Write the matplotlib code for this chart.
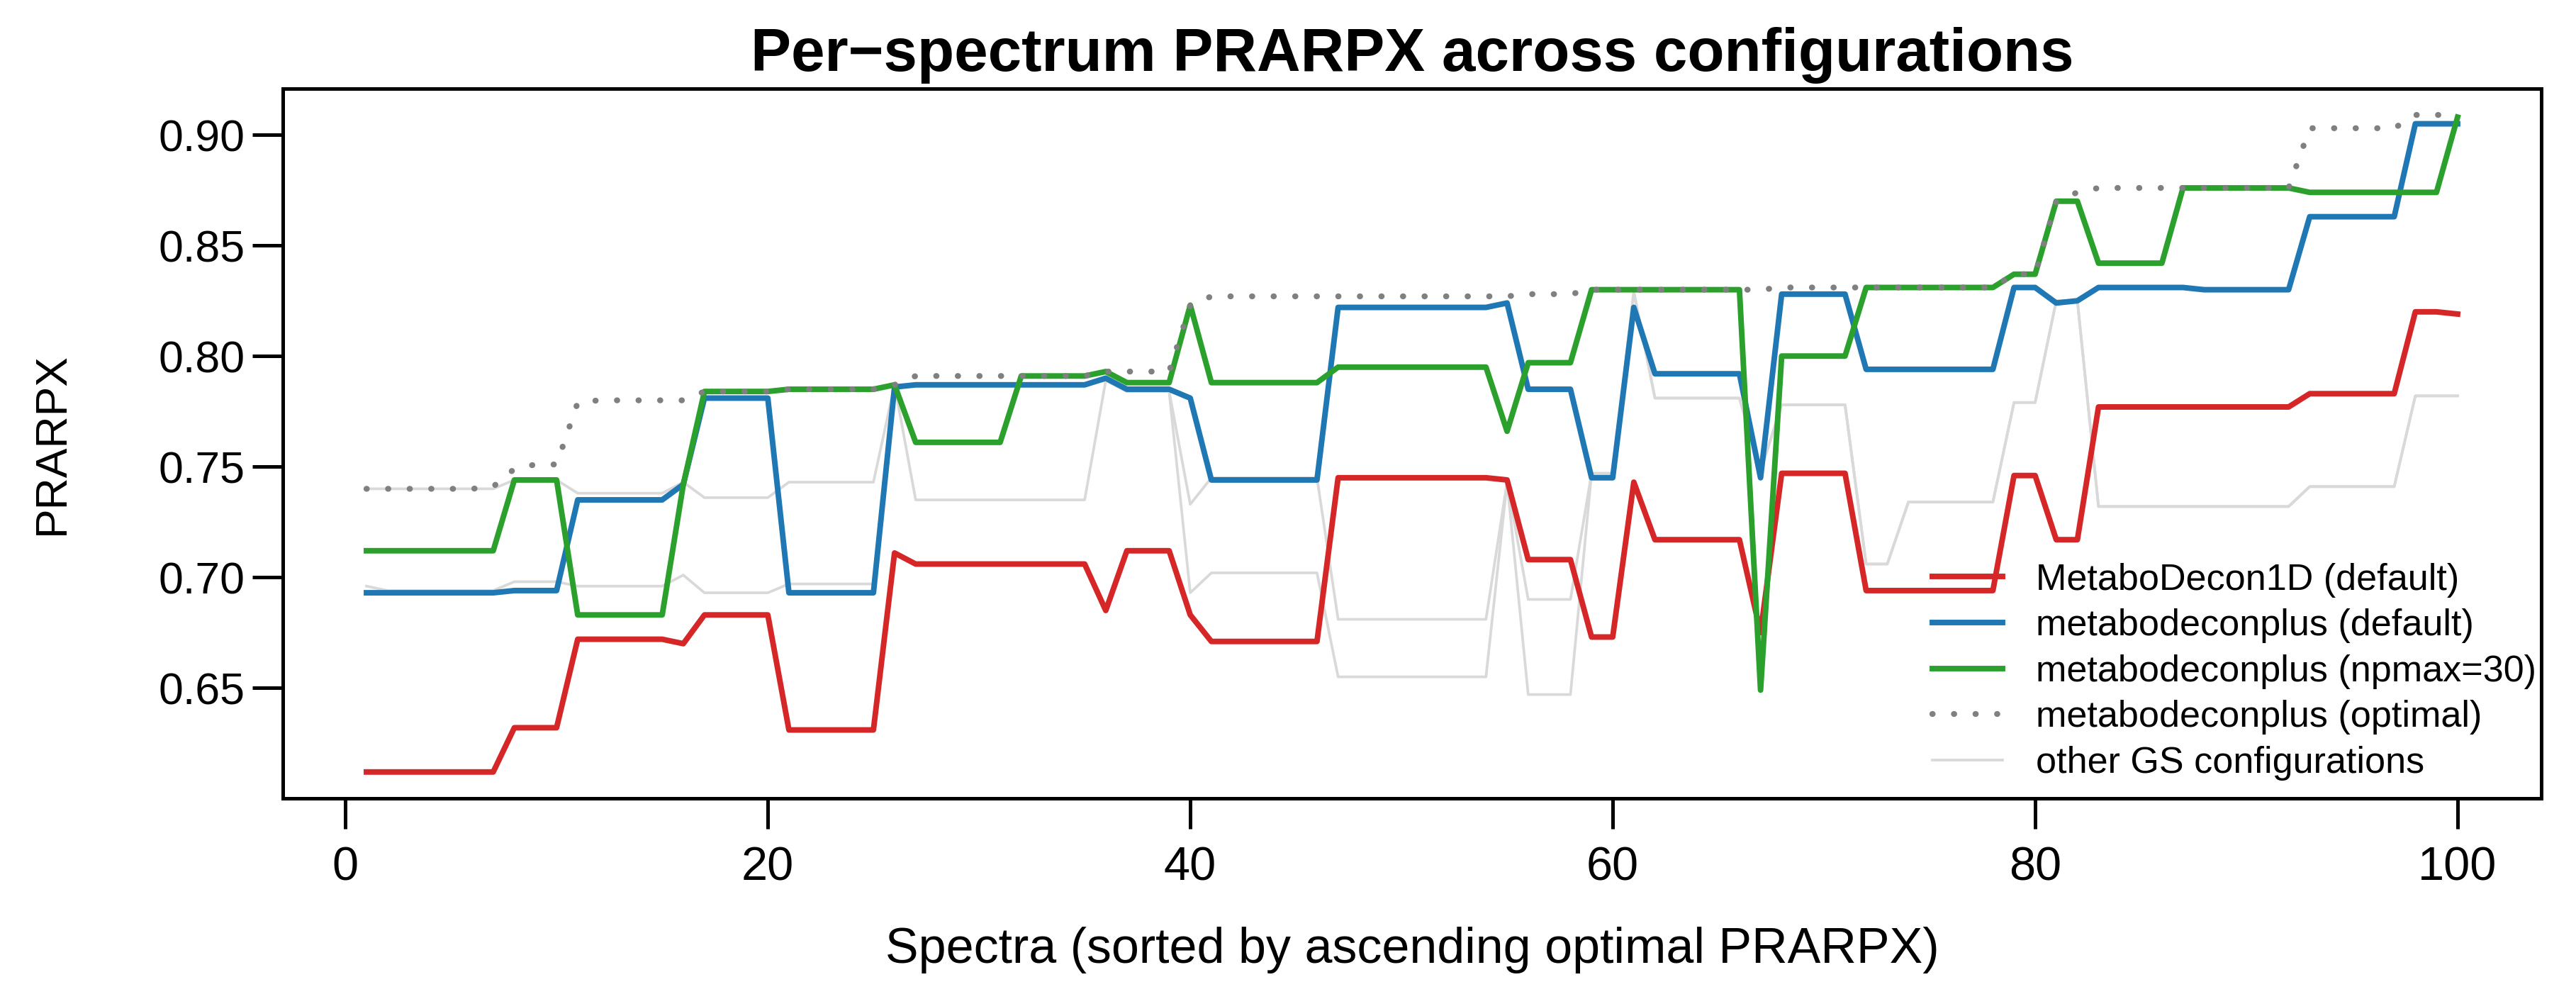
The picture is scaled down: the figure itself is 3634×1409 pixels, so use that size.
import numpy as np
import matplotlib.pyplot as plt

plt.rcParams['font.family'] = ['Liberation Sans', 'DejaVu Sans']

# spectra 1..100, sorted by ascending optimal PRARPX
spectra = np.arange(1, 101)

def steps(*runs):
    # runs of (value, count)
    out = []
    for v, n in runs:
        out += [v] * n
    return out

decon1d_default = steps((0.612, 7), (0.632, 3), (0.672, 5), (0.670, 1),
                        (0.683, 4), (0.631, 5), (0.711, 1), (0.706, 9), (0.685, 1), (0.712, 3),
                        (0.683, 1), (0.671, 6), (0.745, 8), (0.744, 1), (0.708, 3), (0.673, 2),
                        (0.743, 1), (0.717, 5), (0.675, 1), (0.747, 4), (0.694, 7), (0.746, 2),
                        (0.717, 2), (0.777, 10), (0.783, 5), (0.820, 2), (0.819, 1))

plus_default = steps((0.693, 7), (0.694, 3), (0.735, 5), (0.742, 1), (0.781, 4), (0.693, 5),
                     (0.786, 1), (0.787, 9), (0.790, 1), (0.785, 3), (0.781, 1), (0.744, 6),
                     (0.822, 8), (0.824, 1), (0.785, 3), (0.745, 2), (0.822, 1), (0.792, 5),
                     (0.745, 1), (0.828, 4), (0.794, 7), (0.831, 2), (0.824, 1), (0.825, 1),
                     (0.831, 5), (0.830, 5), (0.863, 5), (0.905, 3))

plus_npmax30 = steps((0.712, 7), (0.744, 3), (0.683, 5), (0.742, 1), (0.784, 4), (0.785, 5),
                     (0.787, 1), (0.761, 5), (0.791, 4), (0.793, 1), (0.788, 3), (0.823, 1),
                     (0.788, 6), (0.795, 8), (0.766, 1), (0.797, 3), (0.830, 8), (0.649, 1),
                     (0.800, 4), (0.831, 7), (0.837, 2), (0.870, 2), (0.842, 4), (0.876, 6),
                     (0.874, 7), (0.908, 1))

plus_optimal = steps((0.740, 6), (0.741, 1), (0.749, 1), (0.751, 2), (0.779, 1), (0.780, 5),
                     (0.784, 4), (0.785, 5), (0.787, 1), (0.791, 9), (0.793, 4), (0.823, 1),
                     (0.827, 15), (0.828, 3), (0.830, 9), (0.831, 11), (0.837, 2), (0.870, 1),
                     (0.874, 1), (0.876, 10), (0.903, 5), (0.909, 3))

other_gs_a = steps((0.740, 7), (0.744, 3), (0.738, 5), (0.743, 1), (0.736, 4), (0.743, 5),
                   (0.787, 1), (0.735, 9), (0.789, 1), (0.784, 3), (0.733, 1), (0.745, 6),
                   (0.681, 8), (0.743, 1), (0.690, 3), (0.747, 2), (0.829, 1), (0.781, 5),
                   (0.748, 1), (0.778, 4), (0.706, 2), (0.734, 5), (0.779, 2), (0.825, 2),
                   (0.732, 10), (0.741, 5), (0.782, 3))

other_gs_b = steps((0.696, 1), (0.694, 6), (0.698, 3), (0.696, 5), (0.701, 1), (0.693, 4),
                   (0.697, 5), (0.787, 10), (0.789, 1), (0.784, 3), (0.693, 1), (0.702, 6),
                   (0.655, 8), (0.743, 1), (0.647, 3), (0.747, 2), (0.829, 1), (0.781, 5)) \
             + other_gs_a[66:]

fig = plt.figure(figsize=(3634 / 300, 1409 / 300), dpi=300)
ax = fig.add_axes([0.1098, 0.2009, 0.8767, 0.7104])

gray_lines = []
for g in (other_gs_a, other_gs_b):
    gray_lines += ax.plot(spectra, g, color='#d9d9d9', lw=0.9)

l_red, = ax.plot(spectra, decon1d_default, color='#d62728', lw=1.9)
l_blue, = ax.plot(spectra, plus_default, color='#1f77b4', lw=1.9)
l_green, = ax.plot(spectra, plus_npmax30, color='#2ca02c', lw=1.9)
l_opt, = ax.plot(spectra, plus_optimal, color='#808080', lw=2.0,
                 linestyle=(0, (0.05, 3.6)), dash_capstyle='round')

ax.set_xlim(1 - 3.96, 100 + 3.96)
ax.set_ylim(0.612 - 0.0119, 0.909 + 0.0119)
ax.set_xticks([0, 20, 40, 60, 80, 100])
ax.set_yticks([0.65, 0.70, 0.75, 0.80, 0.85, 0.90])
ax.set_yticklabels(['0.65', '0.70', '0.75', '0.80', '0.85', '0.90'])
ax.tick_params(direction='out', length=10.3, width=1.2, labelsize=15)
ax.tick_params(axis='x', pad=5.8, labelsize=16)
ax.tick_params(axis='y', pad=2.6)
for s in ax.spines.values():
    s.set_linewidth(1.2)

ax.set_title('Per\u2212spectrum PRARPX across configurations', fontsize=20.5,
             fontweight='bold', pad=6)
ax.set_xlabel('Spectra (sorted by ascending optimal PRARPX)', fontsize=16.8)
ax.set_ylabel('PRARPX', fontsize=15)
ax.xaxis.set_label_coords(0.5, -0.2138)
ax.yaxis.set_label_coords(-0.1023, 0.5)
ax.xaxis.label.set_va('center')
ax.yaxis.label.set_va('center')

ax.legend([l_red, l_blue, l_green, l_opt, gray_lines[0]],
          ['MetaboDecon1D (default)', 'metabodeconplus (default)',
           'metabodeconplus (npmax=30)', 'metabodeconplus (optimal)',
           'other GS configurations'],
          loc='upper left', bbox_to_anchor=(0.7304, 0.3320), frameon=False,
          fontsize=12.5, handlelength=1.9, handletextpad=0.9, labelspacing=0.3,
          borderpad=0, borderaxespad=0)

fig.savefig('out.png', dpi=300)
